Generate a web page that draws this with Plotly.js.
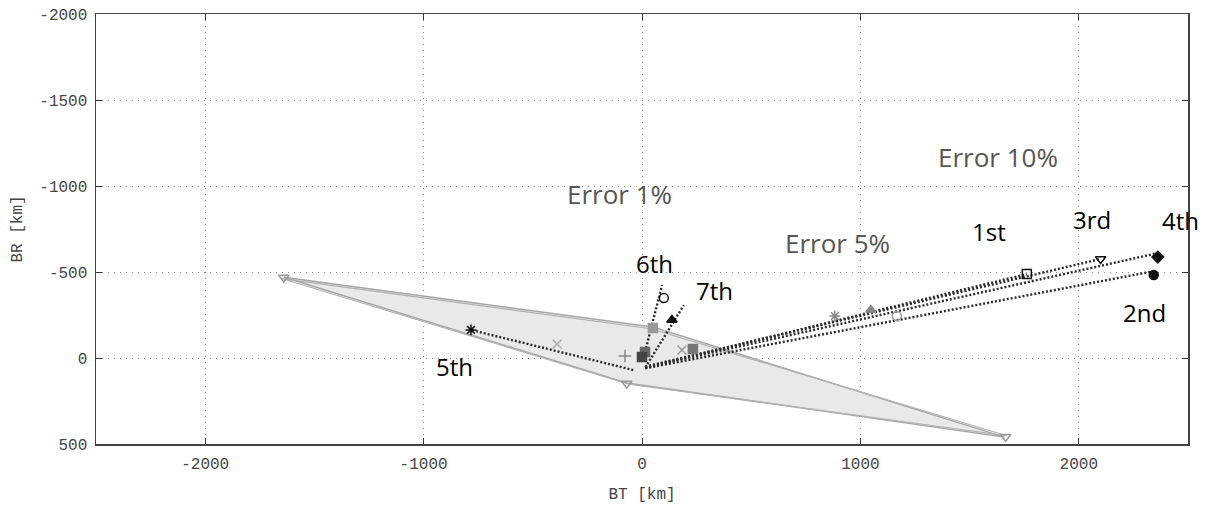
<!DOCTYPE html>
<html>
<head>
<meta charset="utf-8">
<script src="https://cdn.plot.ly/plotly-3.0.1.min.js"></script>
<style>
  html, body { margin: 0; padding: 0; background: #fff; }
  #chart { width: 1211px; height: 508px; }
</style>
</head>
<body>
<div id="chart"></div>
<script>
// B-plane dispersion: BT / BR in km
const regionOuterBT = [-1640, 50, 1660, -70, -1640];
const regionOuterBR = [-470, -180, 460, 145, -470];
const regionInnerBT = [-1650, 40, 1670, -60, -1650];
const regionInnerBR = [-462, -170, 452, 152, -462];
const regionVertexBT = [-1640, -70, 1665];
const regionVertexBR = [-468, 148, 458];

// Trajectory segments (start -> end) for each case
const caseNames = ['1st', '2nd', '3rd', '4th', '5th', '6th', '7th'];
const caseStartBT = [15, 15, 15, 15, -40, 5, 15];
const caseStartBR = [55, 60, 50, 55, 70, 10, 55];
const caseEndBT = [1762, 2343, 2100, 2362, -783, 92, 192];
const caseEndBR = [-488, -505, -576, -610, -163, -424, -308];

// Case markers
const markBT = [1762, 2343, 2100, 2362, -783, 100, 137];
const markBR = [-488, -483, -576, -587, -163, -349, -221];
const markSymbol = ['square-open', 'circle', 'triangle-down-open', 'diamond', 'asterisk-open', 'circle-open', 'triangle-up'];

// Grey intermediate markers
const greyBT = [883, 1048, 1167, 233, 183, -389, -78, 50, 14, 0];
const greyBR = [-244, -279, -244, -52, -47, -81, -12, -174, -35, -6];
const greySymbol = ['asterisk-open', 'triangle-up', 'circle-open', 'square', 'x-thin-open', 'x-thin-open', 'cross-thin-open', 'square', 'square', 'square'];
const greyColor = ['#888', '#888', '#999', '#777', '#999', '#aaa', '#888', '#999', '#666', '#444'];

// Axis ticks
const btTicks = [-2000, -1000, 0, 1000, 2000];
const btTickText = ['-2000', '-1000', '0', '1000', '2000'];
const brTicks = [-2000, -1500, -1000, -500, 0, 500];
const brTickText = ['-2000', '-1500', '-1000', '-500', '0', '500'];

const textLabels = ['Error 10%', 'Error 1%', 'Error 5%', '1st', '3rd', '4th', '2nd', '6th', '7th', '5th'];
const textBT = [1629, -101, 897, 1588, 2059, 2467, 2302, 55, 330, -860];
const textBR = [-1169, -953, -669, -738, -808, -797, -267, -547, -395, 52];
const textColor = ['#555', '#555', '#555', '#000', '#000', '#000', '#000', '#000', '#000', '#000'];

const traces = [];

traces.push({
  x: regionOuterBT, y: regionOuterBR, type: 'scatter', mode: 'lines',
  fill: 'toself', fillcolor: '#e9e9e9',
  line: { color: '#a6a6a6', width: 1.5 }, hoverinfo: 'skip'
});
traces.push({
  x: regionInnerBT, y: regionInnerBR, type: 'scatter', mode: 'lines',
  line: { color: '#b0b0b0', width: 1.2 }, hoverinfo: 'skip'
});
traces.push({
  x: regionVertexBT, y: regionVertexBR, type: 'scatter', mode: 'markers',
  marker: { symbol: 'triangle-down-open', size: 9, color: '#999', line: { width: 1.5 } }
});

for (let i = 0; i < caseNames.length; i++) {
  traces.push({
    x: [caseStartBT[i], caseEndBT[i]], y: [caseStartBR[i], caseEndBR[i]],
    type: 'scatter', mode: 'lines', name: caseNames[i],
    line: { color: '#2a2a2a', width: 2.4, dash: '2px,2px' }
  });
}

traces.push({
  x: greyBT, y: greyBR, type: 'scatter', mode: 'markers',
  marker: { symbol: greySymbol, size: 9, color: greyColor, line: { color: greyColor, width: 1.5 } }
});

traces.push({
  x: markBT, y: markBR, type: 'scatter', mode: 'markers',
  marker: { symbol: markSymbol, size: 9, color: '#111', line: { color: '#111', width: 1.5 } }
});

const annotations = textLabels.map((t, i) => ({
  x: textBT[i], y: textBR[i], xref: 'x', yref: 'y', text: t, showarrow: false,
  font: { family: '"Open Sans", "Noto Sans", sans-serif', size: i < 3 ? 26 : 24, color: textColor[i] }
}));

const tickFont = { family: '"Liberation Mono", "DejaVu Sans Mono", monospace', size: 16, color: '#444' };
const titleFont = { family: '"Liberation Mono", "DejaVu Sans Mono", monospace', size: 16, color: '#444' };

const layout = {
  width: 1211, height: 508,
  margin: { l: 96, r: 23, t: 14, b: 64 },
  paper_bgcolor: '#fff', plot_bgcolor: '#fff',
  showlegend: false,
  xaxis: {
    range: [-2500, 2500], tickmode: 'array', tickvals: btTicks, ticktext: btTickText,
    showgrid: true, gridcolor: '#8a8a8a', griddash: '1px,5px', gridwidth: 1,
    zeroline: false, showline: true, linecolor: '#444', linewidth: 1.5, mirror: 'ticks',
    ticks: 'inside', ticklen: 6, tickcolor: '#333', tickwidth: 1,
    tickfont: tickFont, ticklabelstandoff: 4,
    title: { text: 'BT [km]', font: titleFont, standoff: 15 }
  },
  yaxis: {
    range: [500, -2000], tickmode: 'array', tickvals: brTicks, ticktext: brTickText,
    showgrid: true, gridcolor: '#8a8a8a', griddash: '1px,5px', gridwidth: 1,
    zeroline: false, showline: true, linecolor: '#444', linewidth: 1.5, mirror: 'ticks',
    ticks: 'inside', ticklen: 6, tickcolor: '#333', tickwidth: 1,
    tickfont: tickFont, ticklabelstandoff: 4,
    title: { text: 'BR [km]', font: titleFont, standoff: 12 }
  },
  annotations: annotations
};

Plotly.newPlot('chart', traces, layout, { displayModeBar: false, staticPlot: true });
</script>
</body>
</html>
